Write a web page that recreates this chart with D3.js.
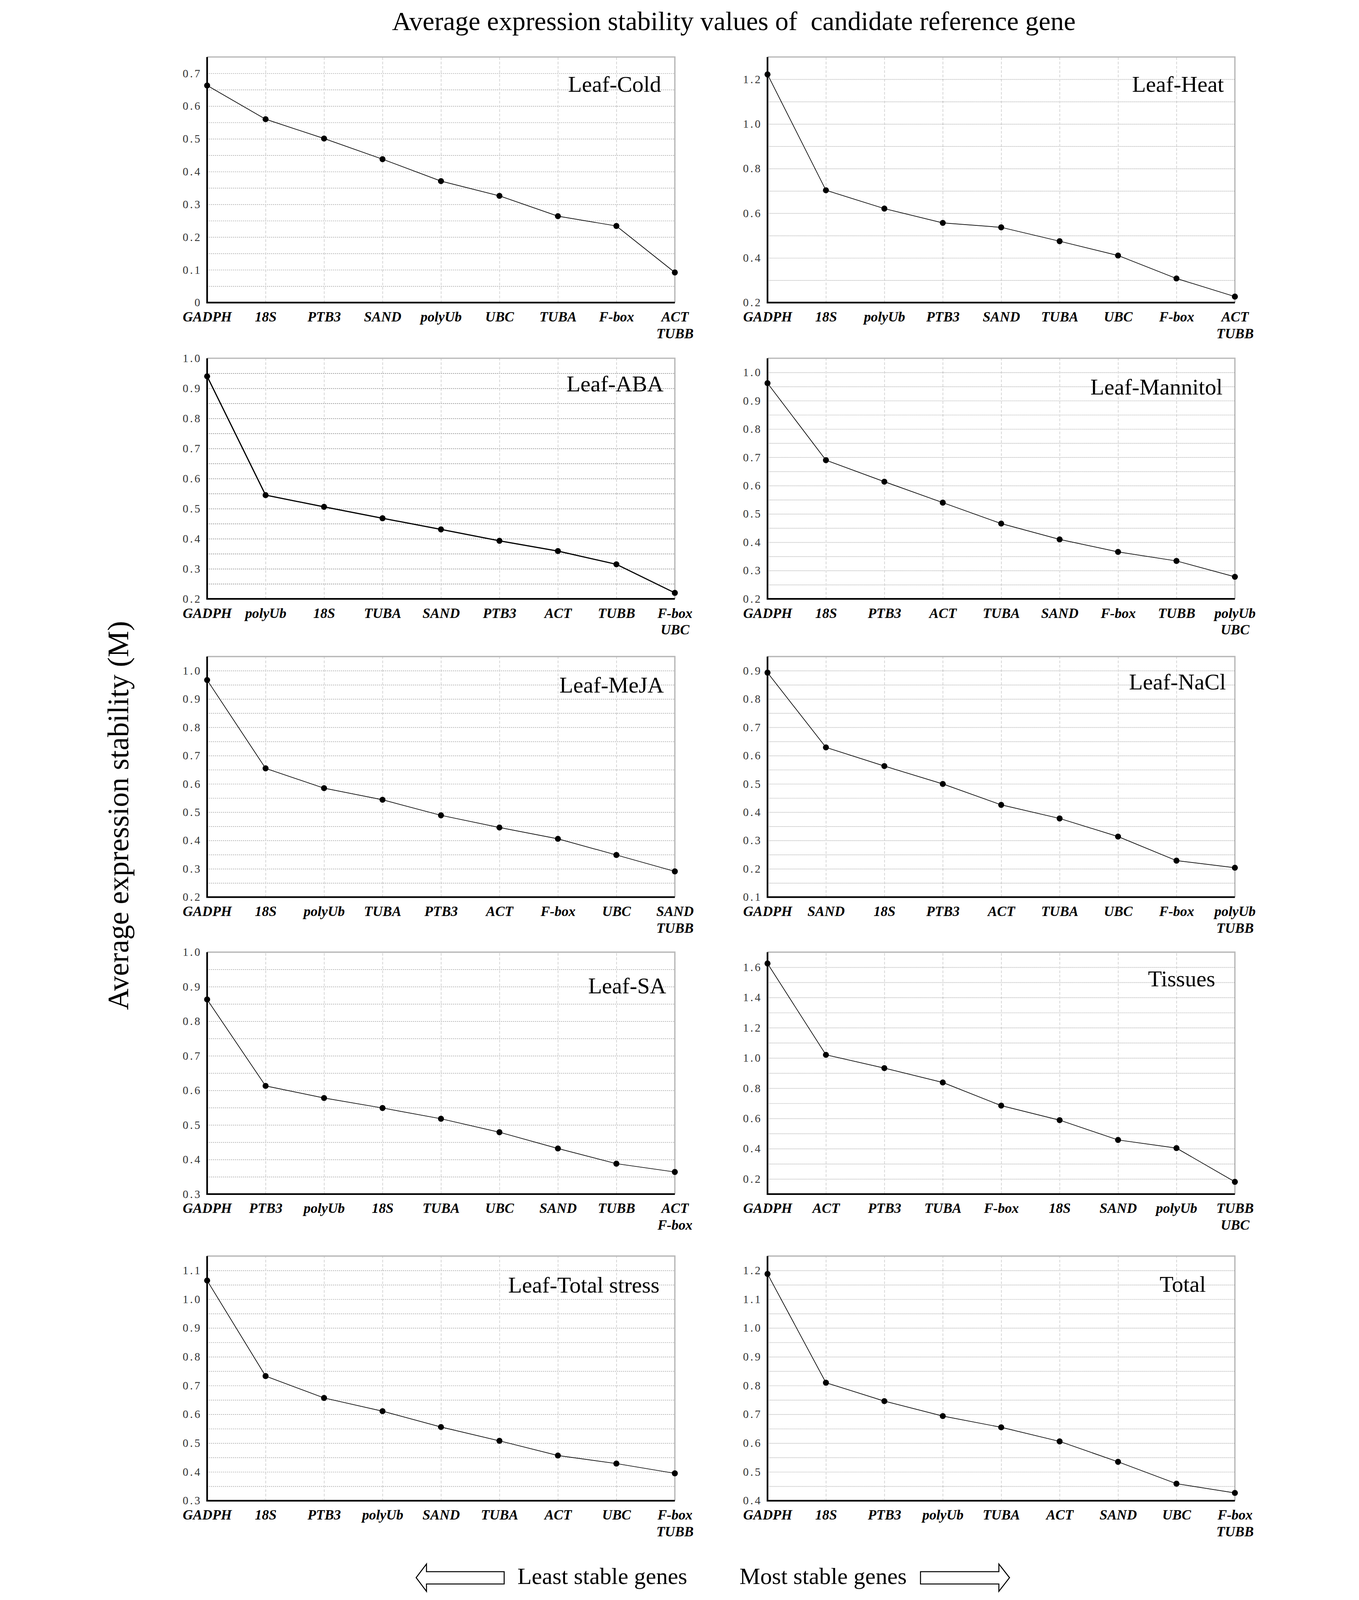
<!DOCTYPE html>
<html>
<head>
<meta charset="utf-8">
<script src="https://cdn.jsdelivr.net/npm/d3@7"></script>
<style>
  html, body { margin: 0; padding: 0; background: #fff; width: 100%; height: 100%; overflow: hidden; }
  #chart { width: 100vw; height: 100vh; }
  svg { display: block; }
  text { font-family: "Liberation Serif", "Times New Roman", serif; }
</style>
</head>
<body>
<div id="chart"></div>
<script>
// ---- data ----
var title = "Average expression stability values of  candidate reference gene";
var yTitle = "Average expression stability (M)";

var panelNames = ["Leaf-Cold", "Leaf-Heat", "Leaf-ABA", "Leaf-Mannitol", "Leaf-MeJA",
                  "Leaf-NaCl", "Leaf-SA", "Tissues", "Leaf-Total stress", "Total"];

var genesCold = ["GADPH", "18S", "PTB3", "SAND", "polyUb", "UBC", "TUBA", "F-box", "ACT/TUBB"];
var valuesCold = [0.663, 0.560, 0.501, 0.438, 0.371, 0.326, 0.264, 0.234, 0.092];

var genesHeat = ["GADPH", "18S", "polyUb", "PTB3", "SAND", "TUBA", "UBC", "F-box", "ACT/TUBB"];
var valuesHeat = [1.222, 0.703, 0.621, 0.557, 0.537, 0.475, 0.411, 0.308, 0.227];

var genesABA = ["GADPH", "polyUb", "18S", "TUBA", "SAND", "PTB3", "ACT", "TUBB", "F-box/UBC"];
var valuesABA = [0.940, 0.545, 0.506, 0.468, 0.431, 0.393, 0.359, 0.315, 0.220];

var genesMannitol = ["GADPH", "18S", "PTB3", "ACT", "TUBA", "SAND", "F-box", "TUBB", "polyUb/UBC"];
var valuesMannitol = [0.962, 0.690, 0.614, 0.540, 0.466, 0.410, 0.366, 0.334, 0.278];

var genesMeJA = ["GADPH", "18S", "polyUb", "TUBA", "PTB3", "ACT", "F-box", "UBC", "SAND/TUBB"];
var valuesMeJA = [0.967, 0.655, 0.585, 0.544, 0.489, 0.446, 0.406, 0.349, 0.291];

var genesNaCl = ["GADPH", "SAND", "18S", "PTB3", "ACT", "TUBA", "UBC", "F-box", "polyUb/TUBB"];
var valuesNaCl = [0.893, 0.629, 0.563, 0.500, 0.426, 0.378, 0.314, 0.229, 0.204];

var genesSA = ["GADPH", "PTB3", "polyUb", "18S", "TUBA", "UBC", "SAND", "TUBB", "ACT/F-box"];
var valuesSA = [0.863, 0.613, 0.578, 0.549, 0.518, 0.479, 0.432, 0.388, 0.364];

var genesTissues = ["GADPH", "ACT", "PTB3", "TUBA", "F-box", "18S", "SAND", "polyUb", "TUBB/UBC"];
var valuesTissues = [1.625, 1.021, 0.933, 0.838, 0.685, 0.589, 0.458, 0.404, 0.181];

var genesTotalStress = ["GADPH", "18S", "PTB3", "polyUb", "SAND", "TUBA", "ACT", "UBC", "F-box/TUBB"];
var valuesTotalStress = [1.065, 0.733, 0.657, 0.611, 0.556, 0.508, 0.457, 0.429, 0.395];

var genesTotal = ["GADPH", "18S", "PTB3", "polyUb", "TUBA", "ACT", "SAND", "UBC", "F-box/TUBB"];
var valuesTotal = [1.188, 0.810, 0.746, 0.694, 0.655, 0.606, 0.535, 0.459, 0.427];

var yDomains = [[0, 0.75], [0.2, 1.3], [0.2, 1.0], [0.2, 1.05], [0.2, 1.05],
                [0.1, 0.95], [0.3, 1.0], [0.1, 1.7], [0.3, 1.15], [0.4, 1.25]];
var yTicks = [
  [0, 0.1, 0.2, 0.3, 0.4, 0.5, 0.6, 0.7],
  [0.2, 0.4, 0.6, 0.8, 1.0, 1.2],
  [0.2, 0.3, 0.4, 0.5, 0.6, 0.7, 0.8, 0.9, 1.0],
  [0.2, 0.3, 0.4, 0.5, 0.6, 0.7, 0.8, 0.9, 1.0],
  [0.2, 0.3, 0.4, 0.5, 0.6, 0.7, 0.8, 0.9, 1.0],
  [0.1, 0.2, 0.3, 0.4, 0.5, 0.6, 0.7, 0.8, 0.9],
  [0.3, 0.4, 0.5, 0.6, 0.7, 0.8, 0.9, 1.0],
  [0.2, 0.4, 0.6, 0.8, 1.0, 1.2, 1.4, 1.6],
  [0.3, 0.4, 0.5, 0.6, 0.7, 0.8, 0.9, 1.0, 1.1],
  [0.4, 0.5, 0.6, 0.7, 0.8, 0.9, 1.0, 1.1, 1.2]
];
var gridSteps = [0.05, 0.1, 0.05, 0.05, 0.05, 0.05, 0.05, 0.1, 0.05, 0.05];

var allGenes = [genesCold, genesHeat, genesABA, genesMannitol, genesMeJA,
                genesNaCl, genesSA, genesTissues, genesTotalStress, genesTotal];
var allValues = [valuesCold, valuesHeat, valuesABA, valuesMannitol, valuesMeJA,
                 valuesNaCl, valuesSA, valuesTissues, valuesTotalStress, valuesTotal];

// ---- layout ----
var W = 3478, H = 4801;
var colX = [[322, 1725], [2003, 3405]];
var rowY = [[171, 908], [1075, 1797], [1970, 2692], [2857, 3583], [3769, 4503]];
var labelDx = [41, 33, 34, 37, 33, 27, 26, 59, 46, 87];
var labelDy = [104, 104, 100, 109, 108, 99, 124, 103, 110, 107];

// scale the whole figure to whatever the window really shows
var svg = d3.select("#chart")
  .append("svg")
  .attr("viewBox", "0 0 " + W + " " + H)
  .attr("preserveAspectRatio", "xMidYMin meet")
  .attr("width", "100%")
  .attr("height", "100%");

svg.append("rect").attr("width", W).attr("height", H).attr("fill", "#fff");

svg.append("text")
  .attr("x", 1902).attr("y", 90)
  .attr("text-anchor", "middle")
  .attr("font-size", 80)
  .style("white-space", "pre")
  .text(title);

svg.append("text")
  .attr("transform", "translate(85,2447) rotate(-90)")
  .attr("text-anchor", "middle")
  .attr("font-size", 89)
  .text(yTitle);

panelNames.forEach(function(name, i) {
  var cx = colX[i % 2], ry = rowY[Math.floor(i / 2)];
  var genes = allGenes[i], vals = allValues[i], dom = yDomains[i];
  var w = cx[1] - cx[0], h = ry[1] - ry[0];

  var x = d3.scalePoint().domain(d3.range(genes.length)).range(cx);
  var y = d3.scaleLinear().domain(dom).range([ry[1], ry[0]]);

  var g = svg.append("g");

  // horizontal grid (major + minor)
  var n = Math.round((dom[1] - dom[0]) / gridSteps[i]);
  var gridVals = d3.range(1, n).map(function(k) { return dom[0] + k * gridSteps[i]; });
  var hg = g.append("g")
    .attr("transform", "translate(" + cx[0] + ",0)")
    .call(d3.axisLeft(y).tickValues(gridVals).tickSize(-w).tickFormat(""));
  hg.select(".domain").remove();
  hg.selectAll("line")
    .attr("stroke", name == "Leaf-ABA" ? "#8a8a8a" : "#a8a8a8")
    .attr("stroke-width", 2)
    .attr("stroke-dasharray", "3,3");

  // vertical grid at each gene
  var vg = g.append("g")
    .attr("transform", "translate(0," + ry[1] + ")")
    .call(d3.axisBottom(x).tickValues(d3.range(1, genes.length)).tickSize(-h).tickFormat(""));
  vg.select(".domain").remove();
  vg.selectAll("line")
    .attr("stroke", "#cfcfcf")
    .attr("stroke-width", 2)
    .attr("stroke-dasharray", "8,5");

  // frame: grey top/right, black left/bottom
  g.append("path")
    .attr("d", "M" + cx[0] + "," + ry[0] + "H" + cx[1] + "V" + ry[1])
    .attr("fill", "none").attr("stroke", "#b9b9b9").attr("stroke-width", 4);
  g.append("path")
    .attr("d", "M" + cx[0] + "," + ry[0] + "V" + ry[1] + "H" + cx[1])
    .attr("fill", "none").attr("stroke", "#000").attr("stroke-width", 5);

  // y tick labels
  var fmt = function(d) { return d === 0 ? "0" : d3.format(".1f")(d); };
  var ya = g.append("g")
    .attr("transform", "translate(" + cx[0] + ",0)")
    .call(d3.axisLeft(y).tickValues(yTicks[i]).tickSize(0).tickPadding(16).tickFormat(fmt));
  ya.select(".domain").remove();
  ya.attr("font-family", null).attr("font-size", null);
  ya.selectAll("text")
    .attr("font-size", 34)
    .attr("fill", "#333")
    .style("letter-spacing", "5px");

  // x gene labels (ties on two lines)
  var xa = g.append("g")
    .attr("transform", "translate(0," + ry[1] + ")")
    .call(d3.axisBottom(x).tickSize(0).tickFormat(function(d) { return genes[d]; }));
  xa.select(".domain").remove();
  xa.attr("font-family", null).attr("font-size", null);
  xa.selectAll("text").each(function(d) {
    var t = d3.select(this), parts = genes[d].split("/");
    t.text(null).attr("y", 57).attr("dy", null)
      .attr("font-size", 42).attr("font-weight", "bold").attr("font-style", "italic")
      .attr("fill", "#000");
    parts.forEach(function(s, k) {
      t.append("tspan").attr("x", 0).attr("dy", k == 0 ? 0 : 50).text(s);
    });
  });

  // line + points
  var line = d3.line()
    .x(function(d, k) { return x(k); })
    .y(function(d) { return y(d); });
  g.append("path")
    .datum(vals)
    .attr("d", line)
    .attr("fill", "none")
    .attr("stroke", "#000")
    .attr("stroke-width", name == "Leaf-ABA" ? 3.5 : 2);
  g.selectAll(".dot")
    .data(vals)
    .enter().append("circle")
    .attr("cx", function(d, k) { return x(k); })
    .attr("cy", function(d) { return y(d); })
    .attr("r", 9)
    .attr("fill", "#000");

  // panel name
  g.append("text")
    .attr("x", cx[1] - labelDx[i])
    .attr("y", ry[0] + labelDy[i])
    .attr("text-anchor", "end")
    .attr("font-size", 68)
    .text(name);
});

// bottom hollow arrows + captions
svg.append("path")
  .attr("d", "M949,4734 L980,4693 L980,4716 L1213,4716 L1213,4753 L980,4753 L980,4775 Z")
  .attr("fill", "#fff").attr("stroke", "#000").attr("stroke-width", 3);
svg.append("path")
  .attr("d", "M2729,4734 L2697,4693 L2697,4716 L2462,4716 L2462,4753 L2697,4753 L2697,4775 Z")
  .attr("fill", "#fff").attr("stroke", "#000").attr("stroke-width", 3);

svg.append("text")
  .attr("x", 1253).attr("y", 4753)
  .attr("font-size", 70)
  .text("Least stable genes");
svg.append("text")
  .attr("x", 1919).attr("y", 4753)
  .attr("font-size", 70)
  .text("Most stable genes");
</script>
</body>
</html>
